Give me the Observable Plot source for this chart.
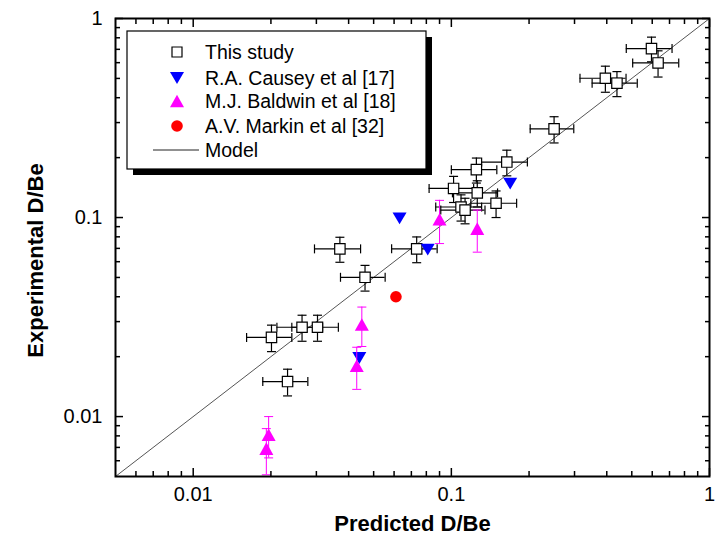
<!DOCTYPE html>
<html><head><meta charset="utf-8">
<script src="https://cdn.jsdelivr.net/npm/d3@7"></script>
<script src="https://cdn.jsdelivr.net/npm/@observablehq/plot@0.6"></script>
<style>body{margin:0;background:#fff;} svg{display:block}</style>
</head><body><div id="chart"></div>
<script>
// ---- data ----
const studyX    = [0.596, 0.632, 0.395, 0.438, 0.250, 0.164, 0.125, 0.102, 0.126, 0.149, 0.109, 0.113, 0.0734, 0.037, 0.0463, 0.0201, 0.0264, 0.0303, 0.0232];
const studyY    = [0.706, 0.598, 0.501, 0.473, 0.279, 0.190, 0.174, 0.140, 0.133, 0.118, 0.113, 0.109, 0.0696, 0.0696, 0.0501, 0.0250, 0.0281, 0.0281, 0.0150];
const studyXErr = [0.120, 0.128, 0.080, 0.087, 0.048, 0.033, 0.025, 0.020, 0.025, 0.030, 0.022, 0.022, 0.0147, 0.0075, 0.0091, 0.0040, 0.0053, 0.0062, 0.0046];
const studyYErr = [0.100, 0.090, 0.075, 0.068, 0.042, 0.028, 0.025, 0.021, 0.020, 0.018, 0.017, 0.016, 0.0103, 0.0100, 0.0074, 0.0038, 0.0042, 0.0042, 0.0023];

const causeyX = [0.169, 0.063, 0.081, 0.044];
const causeyY = [0.148, 0.099, 0.069, 0.0197];

const baldwinX    = [0.090, 0.126, 0.045, 0.043, 0.0196, 0.0192];
const baldwinY    = [0.098, 0.088, 0.029, 0.018, 0.0081, 0.0069];
const baldwinYErr = [0.024, 0.021, 0.0065, 0.0043, 0.0019, 0.0018];

const markinX = [0.061];
const markinY = [0.040];

const modelX = [0.005, 1];
const modelY = [0.005, 1];

const xDomain = [0.005, 1];
const yDomain = [0.005, 1];
const majorTicks = [0.01, 0.1, 1];
const minorTicks = [0.006, 0.007, 0.008, 0.009, 0.02, 0.03, 0.04, 0.05, 0.06, 0.07, 0.08, 0.09, 0.2, 0.3, 0.4, 0.5, 0.6, 0.7, 0.8, 0.9];

const xTitle = "Predicted D/Be";
const yTitle = "Experimental D/Be";
const legendLabels = ["This study", "R.A. Causey et al [17]", "M.J. Baldwin et al [18]", "A.V. Markin et al [32]", "Model"];

const BLUE = "#0000ff", MAGENTA = "#ff00ff", RED = "#ff0000";

// ---- tables ----
const study = studyX.map((x, i) => ({x, y: studyY[i], xe: studyXErr[i], ye: studyYErr[i]}));
const causey = causeyX.map((x, i) => ({x, y: causeyY[i]}));
const baldwin = baldwinX.map((x, i) => ({x, y: baldwinY[i], ye: baldwinYErr[i]}));
const markin = markinX.map((x, i) => ({x, y: markinY[i]}));
const model = modelX.map((x, i) => ({x, y: modelY[i]}));

// ---- custom symbols ----
const half = size => Math.sqrt(size / Math.PI);
const sqSym = {draw(c, s) { const w = half(s); c.moveTo(-w, -w); c.lineTo(w, -w); c.lineTo(w, w); c.lineTo(-w, w); c.closePath(); }};
const triUp = {draw(c, s) { const w = half(s), h = w * 0.9; c.moveTo(0, -h); c.lineTo(w, h); c.lineTo(-w, h); c.closePath(); }};
const triDown = {draw(c, s) { const w = half(s), h = w * 0.85; c.moveTo(0, h); c.lineTo(w, -h); c.lineTo(-w, -h); c.closePath(); }};
const capV = {draw(c, s) { const w = half(s); c.moveTo(0, -w); c.lineTo(0, w); }};
const capH = {draw(c, s) { const w = half(s); c.moveTo(-w, 0); c.lineTo(w, 0); }};

const FONT = "'Liberation Sans', Arial, Helvetica, sans-serif";

function legend(index, scales, values, dimensions) {
  const g = d3.create("svg:g");
  const bx = 127, by = 31, bw = 299, bh = 138;
  g.append("rect").attr("x", bx + 6).attr("y", by + 6).attr("width", bw).attr("height", bh).attr("fill", "black");
  g.append("rect").attr("x", bx).attr("y", by).attr("width", bw).attr("height", bh).attr("fill", "white").attr("stroke", "black").attr("stroke-width", 1.2);
  const rows = [52, 78, 101, 126, 150];
  const mx = 177, tx = 205;
  const sym = (type, r) => d3.symbol().type(type).size(Math.PI * r * r)();
  g.append("path").attr("transform", `translate(${mx},${rows[0]})`).attr("d", sym(sqSym, 5)).attr("fill", "white").attr("stroke", "black").attr("stroke-width", 1.2);
  g.append("path").attr("transform", `translate(${mx},${rows[1]})`).attr("d", sym(triDown, 7)).attr("fill", BLUE);
  g.append("path").attr("transform", `translate(${mx},${rows[2]})`).attr("d", sym(triUp, 7)).attr("fill", MAGENTA);
  g.append("circle").attr("cx", mx).attr("cy", rows[3]).attr("r", 5.8).attr("fill", RED);
  g.append("line").attr("x1", 153).attr("x2", 199).attr("y1", rows[4]).attr("y2", rows[4]).attr("stroke", "#222").attr("stroke-width", 1);
  legendLabels.forEach((t, i) => {
    g.append("text").attr("x", tx).attr("y", rows[i]).attr("dy", "0.35em")
      .attr("text-anchor", "start")
      .attr("font-family", FONT).attr("font-size", 19.5).attr("fill", "black").text(t);
  });
  return g.node();
}

const chart = Plot.plot({
  width: 720,
  height: 541,
  marginLeft: 115,
  marginRight: 11,
  marginTop: 18,
  marginBottom: 65,
  style: {fontFamily: FONT, background: "white", color: "black"},
  x: {type: "log", domain: xDomain},
  y: {type: "log", domain: yDomain},
  marks: [
    // model line
    Plot.line(model, {x: "x", y: "y", stroke: "#555", strokeWidth: 1, clip: true}),
    // This study error bars
    Plot.ruleY(study, {y: "y", x1: d => d.x - d.xe, x2: d => d.x + d.xe, stroke: "black", strokeWidth: 1.2}),
    Plot.ruleX(study, {x: "x", y1: d => d.y - d.ye, y2: d => d.y + d.ye, stroke: "black", strokeWidth: 1.2}),
    Plot.dot(study, {x: d => d.x - d.xe, y: "y", symbol: capV, r: 4.5, fill: "none", stroke: "black", strokeWidth: 1.2}),
    Plot.dot(study, {x: d => d.x + d.xe, y: "y", symbol: capV, r: 4.5, fill: "none", stroke: "black", strokeWidth: 1.2}),
    Plot.dot(study, {x: "x", y: d => d.y - d.ye, symbol: capH, r: 4.5, fill: "none", stroke: "black", strokeWidth: 1.2}),
    Plot.dot(study, {x: "x", y: d => d.y + d.ye, symbol: capH, r: 4.5, fill: "none", stroke: "black", strokeWidth: 1.2}),
    Plot.dot(study, {x: "x", y: "y", symbol: sqSym, r: 5.2, fill: "white", stroke: "black", strokeWidth: 1.2}),
    // Causey
    Plot.dot(causey, {x: "x", y: "y", symbol: triDown, r: 7, fill: BLUE, stroke: "none"}),
    // Baldwin
    Plot.ruleX(baldwin, {x: "x", y1: d => d.y - d.ye, y2: d => d.y + d.ye, stroke: MAGENTA, strokeWidth: 1, clip: true}),
    Plot.dot(baldwin, {x: "x", y: d => d.y - d.ye, symbol: capH, r: 4.5, fill: "none", stroke: MAGENTA, strokeWidth: 1}),
    Plot.dot(baldwin, {x: "x", y: d => d.y + d.ye, symbol: capH, r: 4.5, fill: "none", stroke: MAGENTA, strokeWidth: 1}),
    Plot.dot(baldwin, {x: "x", y: "y", symbol: triUp, r: 7, fill: MAGENTA, stroke: "none"}),
    // Markin
    Plot.dot(markin, {x: "x", y: "y", r: 5.8, fill: RED, stroke: "none"}),
    // frame
    Plot.frame({stroke: "black", strokeWidth: 2}),
    // inward ticks on all four sides
    Plot.axisX(majorTicks, {anchor: "bottom", tickSize: -8, fill: "none", strokeWidth: 1.5, label: null}),
    Plot.axisX(minorTicks, {anchor: "bottom", tickSize: -5, fill: "none", strokeWidth: 1.5, label: null}),
    Plot.axisX(majorTicks, {anchor: "top", tickSize: -8, fill: "none", strokeWidth: 1.5, label: null}),
    Plot.axisX(minorTicks, {anchor: "top", tickSize: -5, fill: "none", strokeWidth: 1.5, label: null}),
    Plot.axisY(majorTicks, {anchor: "left", tickSize: -8, fill: "none", strokeWidth: 1.5, label: null}),
    Plot.axisY(minorTicks, {anchor: "left", tickSize: -5, fill: "none", strokeWidth: 1.5, label: null}),
    Plot.axisY(majorTicks, {anchor: "right", tickSize: -8, fill: "none", strokeWidth: 1.5, label: null}),
    Plot.axisY(minorTicks, {anchor: "right", tickSize: -5, fill: "none", strokeWidth: 1.5, label: null}),
    // tick labels
    Plot.axisX(majorTicks, {anchor: "bottom", tickSize: 0, tickPadding: 10, fontSize: 20, tickFormat: d => String(d), label: null}),
    Plot.axisY(majorTicks, {anchor: "left", tickSize: 0, tickPadding: 13, fontSize: 20, tickFormat: d => String(d), label: null}),
    // axis titles
    Plot.text([xTitle], {frameAnchor: "bottom", dy: 47, textAnchor: "middle", lineAnchor: "middle", fontSize: 22, fontWeight: "bold", fill: "black"}),
    Plot.text([yTitle], {frameAnchor: "left", dx: -80, dy: 13, rotate: -90, textAnchor: "middle", lineAnchor: "middle", fontSize: 22, fontWeight: "bold", fill: "black"}),
    // legend
    legend
  ]
});
document.getElementById("chart").appendChild(chart);
</script>
</body></html>
